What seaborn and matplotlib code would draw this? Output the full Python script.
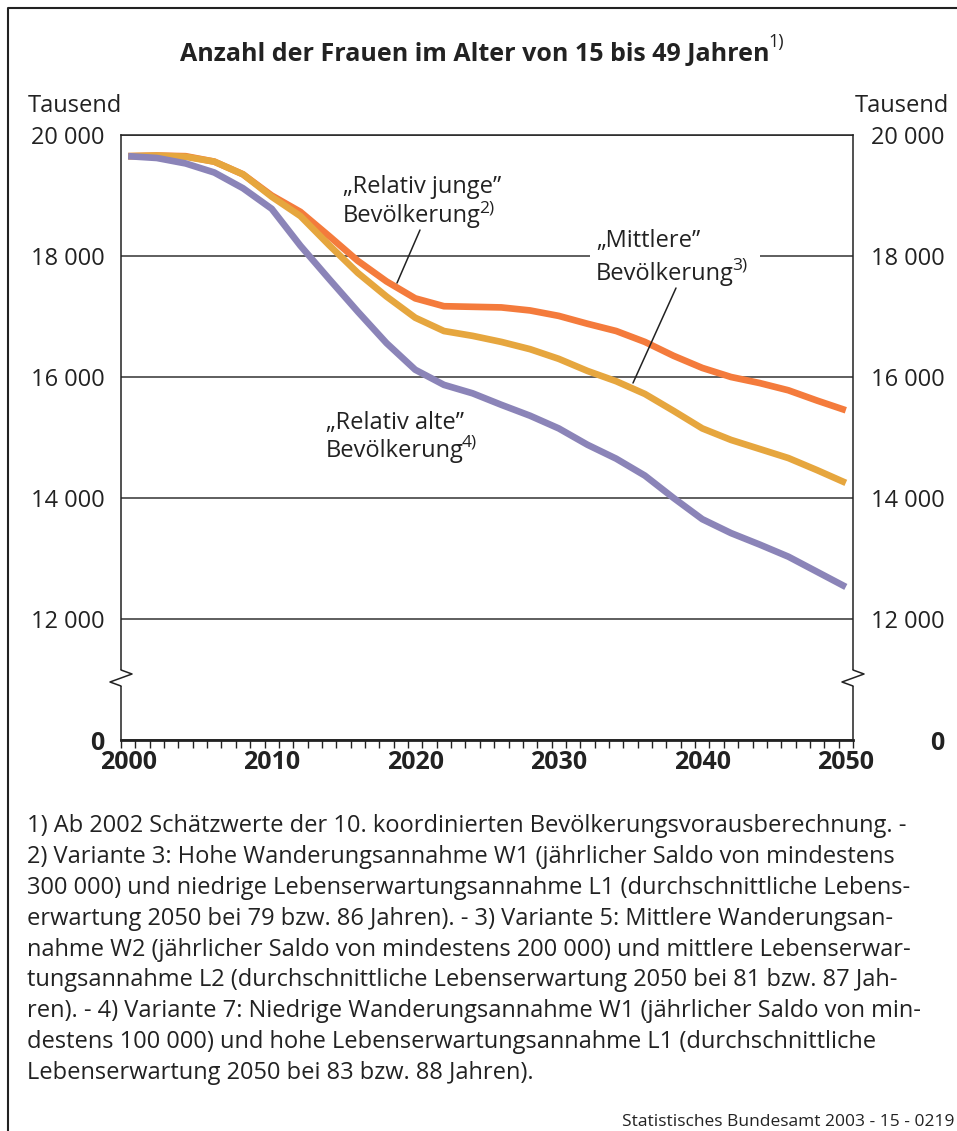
import numpy as np
import pandas as pd
import matplotlib
matplotlib.use("Agg")
import matplotlib.pyplot as plt
from matplotlib.lines import Line2D
from matplotlib.patches import Rectangle
import seaborn as sns

# Daten (Tausend)
jahre = list(range(2000, 2051, 2))
relativ_junge = [19650, 19660, 19650, 19560, 19350, 19000, 18730, 18330, 17920, 17580,
                 17300, 17170, 17160, 17150, 17100, 17010, 16880, 16760, 16580, 16350,
                 16150, 16000, 15900, 15780, 15610, 15450]
mittlere = [19650, 19660, 19640, 19560, 19350, 18980, 18660, 18180, 17720, 17330,
            16980, 16760, 16680, 16580, 16460, 16300, 16100, 15930, 15720, 15440,
            15150, 14960, 14810, 14660, 14460, 14250]
relativ_alte = [19650, 19620, 19530, 19380, 19120, 18780, 18170, 17620, 17080, 16560,
                16120, 15870, 15730, 15540, 15360, 15150, 14880, 14650, 14370, 14000,
                13650, 13420, 13230, 13030, 12780, 12530]

varianten = ["Relativ junge", "Mittlere", "Relativ alte"]
farben = ["#F47B3C", "#E6A63E", "#8B84B8"]

y_ticks = [10000, 12000, 14000, 16000, 18000, 20000]   # 10000 steht fuer die Achsenunterbrechung "0"
y_labels = ["0", "12 000", "14 000", "16 000", "18 000", "20 000"]
x_ticks = [2000, 2010, 2020, 2030, 2040, 2050]

df = pd.DataFrame({
    "Jahr": jahre * 3,
    "Frauen": relativ_junge + mittlere + relativ_alte,
    "Variante": [v for v in varianten for _ in jahre],
})

sns.set_style("white")
plt.rcParams["font.family"] = ["Open Sans", "DejaVu Sans"]

W, H = 957, 1131
fig = plt.figure(figsize=(W / 100, H / 100), dpi=100)


def fx(x):
    return x / W


def fy(y):
    return 1 - y / H


ax = fig.add_axes([fx(121), fy(740), fx(853) - fx(121), fy(135) - fy(740)])

sns.lineplot(data=df, x="Jahr", y="Frauen", hue="Variante", hue_order=varianten,
             palette=farben, linewidth=4.8, estimator=None, legend=False, ax=ax,
             solid_capstyle="butt")

ax.set_xlim(1999.5, 2050.5)
ax.set_ylim(10000, 20000)
ax.set_xlabel("")
ax.set_ylabel("")

# x-Achse: Jahresstriche an den Grenzen, Beschriftung in der Mitte
ax.set_xticks(x_ticks)
ax.set_xticklabels([str(x) for x in x_ticks], fontsize=18, fontweight="bold")
ax.set_xticks(np.arange(1999.5, 2051, 1), minor=True)
ax.tick_params(axis="x", which="major", length=0, pad=7, colors="#222222")
ax.tick_params(axis="x", which="minor", length=5.5, width=1, direction="out",
               color="#222222", bottom=True)

ax.set_yticks(y_ticks)
ax.set_yticklabels(y_labels, fontsize=17)
ax.tick_params(axis="y", length=0, pad=12, colors="#222222")
ax.get_yticklabels()[0].set_fontweight("bold")
ax.get_yticklabels()[0].set_fontsize(18)
ax.grid(axis="y", color="#333333", linewidth=1.1)
ax.grid(axis="x", visible=False)

for s in ["left", "right", "top"]:
    ax.spines[s].set_color("#222222")
    ax.spines[s].set_linewidth(1.1)
ax.spines["bottom"].set_color("#222222")
ax.spines["bottom"].set_linewidth(2.0)

ax2 = ax.twinx()
ax2.set_ylim(ax.get_ylim())
ax2.set_yticks(y_ticks)
ax2.set_yticklabels(y_labels, fontsize=17, ha="right")
ax2.tick_params(axis="y", length=0, pad=66, colors="#222222")
ax2.get_yticklabels()[0].set_fontweight("bold")
ax2.get_yticklabels()[0].set_fontsize(18)
for s in ax2.spines.values():
    s.set_visible(False)

# Achsenunterbrechung
for xs in (121, 853):
    zz = Line2D([fx(xs), fx(xs + 11), fx(xs - 11), fx(xs)],
                [fy(670), fy(674), fy(682), fy(686)],
                transform=fig.transFigure, color="#222222", linewidth=1.1, zorder=5)
    fig.add_artist(zz)
    fig.add_artist(Rectangle((fx(xs) - 0.002, fy(686)), 0.004, fy(670) - fy(686),
                             transform=fig.transFigure, facecolor="white",
                             edgecolor="none", zorder=4))

renderer = fig.canvas.get_renderer()
txt_color = "#222222"


def text_sup(x, y, s, sup, size=17, sup_size=12.5, rise=10):
    t = fig.text(fx(x), fy(y), s, fontsize=size, color=txt_color,
                 ha="left", va="baseline", zorder=6)
    bb = t.get_window_extent(renderer)
    fig.text((bb.x1 - 2) / W, fy(y - rise), sup, fontsize=sup_size, color=txt_color,
             ha="left", va="baseline", zorder=6)
    return t


# Titel
title = fig.text(fx(475), fy(61), "Anzahl der Frauen im Alter von 15 bis 49 Jahren",
                 fontsize=18, fontweight="bold", color=txt_color, ha="center",
                 va="baseline")
tb = title.get_window_extent(renderer)
fig.text((tb.x1 - 1) / W, fy(47), "1)", fontsize=13, color=txt_color, va="baseline")

fig.text(fx(28), fy(112), "Tausend", fontsize=17, color=txt_color, va="baseline")
fig.text(fx(949), fy(112), "Tausend", fontsize=17, color=txt_color, va="baseline", ha="right")

# Beschriftungen der Linien
fig.text(fx(343), fy(193), "\u201eRelativ junge\u201d", fontsize=17, color=txt_color, va="baseline")
text_sup(343, 222, "Bevölkerung", "2)")

fig.add_artist(Rectangle((fx(590), fy(290)), fx(760) - fx(590), fy(225) - fy(290),
                         transform=fig.transFigure, facecolor="white", edgecolor="none",
                         zorder=3))
fig.text(fx(596), fy(247), "\u201eMittlere\u201d", fontsize=17, color=txt_color, va="baseline",
         zorder=6)
text_sup(596, 280, "Bevölkerung", "3)")

fig.text(fx(326), fy(429), "\u201eRelativ alte\u201d", fontsize=17, color=txt_color, va="baseline")
text_sup(326, 457, "Bevölkerung", "4)")

for (x0, y0, x1, y1) in [(420, 230, 397, 283), (676, 288, 633, 383)]:
    fig.add_artist(Line2D([fx(x0), fx(x1)], [fy(y0), fy(y1)], transform=fig.transFigure,
                          color="#222222", linewidth=1.1, zorder=6))

# Fussnoten
fussnoten = [
    "1) Ab 2002 Schätzwerte der 10. koordinierten Bevölkerungsvorausberechnung. -",
    "2) Variante 3: Hohe Wanderungsannahme W1 (jährlicher Saldo von mindestens",
    "300 000) und niedrige Lebenserwartungsannahme L1 (durchschnittliche Lebens-",
    "erwartung 2050 bei 79 bzw. 86 Jahren). - 3) Variante 5: Mittlere Wanderungsan-",
    "nahme W2 (jährlicher Saldo von mindestens 200 000) und mittlere Lebenserwar-",
    "tungsannahme L2 (durchschnittliche Lebenserwartung 2050 bei 81 bzw. 87 Jah-",
    "ren). - 4) Variante 7: Niedrige Wanderungsannahme W1 (jährlicher Saldo von min-",
    "destens 100 000) und hohe Lebenserwartungsannahme L1 (durchschnittliche",
    "Lebenserwartung 2050 bei 83 bzw. 88 Jahren).",
]
for i, zeile in enumerate(fussnoten):
    fig.text(fx(27), fy(832 + i * 30.9), zeile, fontsize=17, color=txt_color, va="baseline")

fig.text(fx(954), fy(1126), "Statistisches Bundesamt 2003 - 15 - 0219", fontsize=12.5,
         color=txt_color, va="baseline", ha="right")

# Rahmen
fig.add_artist(Line2D([fx(8), fx(8), fx(960)], [fy(1135), fy(8), fy(8)],
                      transform=fig.transFigure, color="#222222", linewidth=1.5))

fig.savefig("out.png", dpi=100)
